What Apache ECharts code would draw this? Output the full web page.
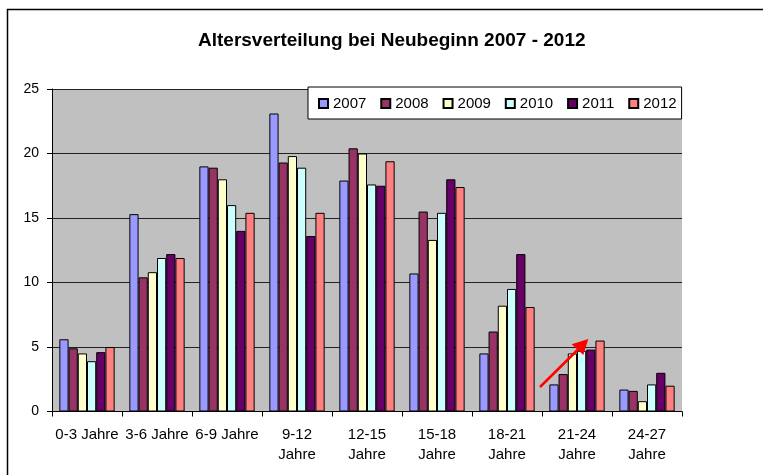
<!DOCTYPE html>
<html>
<head>
<meta charset="utf-8">
<script src="https://cdn.jsdelivr.net/npm/echarts@6/dist/echarts.min.js"></script>
<style>
html,body{margin:0;padding:0;background:#fff;}
#chart{width:763px;height:475px;}
</style>
</head>
<body>
<div id="chart"></div>
<script>
const categories = ['0-3 Jahre','3-6 Jahre','6-9 Jahre','9-12\nJahre','12-15\nJahre','15-18\nJahre','18-21\nJahre','21-24\nJahre','24-27\nJahre'];
const years = ['2007','2008','2009','2010','2011','2012'];
const v2007 = [5.6, 15.3, 19.0, 23.1, 17.9, 10.7, 4.5, 2.1, 1.7];
const v2008 = [4.9, 10.4, 18.9, 19.3, 20.4, 15.5, 6.2, 2.9, 1.6];
const v2009 = [4.5, 10.8, 18.0, 19.8, 20.0, 13.3, 8.2, 4.5, 0.8];
const v2010 = [3.9, 11.9, 16.0, 18.9, 17.6, 15.4, 9.5, 4.7, 2.1];
const v2011 = [4.6, 12.2, 14.0, 13.6, 17.5, 18.0, 12.2, 4.8, 3.0];
const v2012 = [5.0, 11.9, 15.4, 15.4, 19.4, 17.4, 8.1, 5.5, 2.0];
const yTicks = [0, 5, 10, 15, 20, 25];

const colors = ['#9999FF','#993366','#FFFFCC','#CCFFFF','#660066','#FF8080'];
const seriesValues = [v2007, v2008, v2009, v2010, v2011, v2012];
const FONT = "'Liberation Sans', Arial, sans-serif";

const chart = echarts.init(document.getElementById('chart'), null, {renderer:'canvas'});
chart.setOption({
  animation: false,
  backgroundColor: '#ffffff',
  title: {
    text: 'Altersverteilung bei Neubeginn 2007 - 2012',
    left: 198, top: 31, padding: 0,
    textStyle: {fontFamily: FONT, fontSize: 19, fontWeight: 'bold', color: '#000'}
  },
  legend: {
    data: years,
    left: 308, top: 87,
    padding: [9, 5, 8, 10],
    itemWidth: 9, itemHeight: 9, itemGap: 13.9,
    icon: 'rect',
    backgroundColor: '#ffffff',
    borderColor: '#000', borderWidth: 1,
    textStyle: {fontFamily: FONT, fontSize: 15, color: '#000'}
  },
  grid: {
    left: 52, right: 81, top: 89, bottom: 63.5,
    show: true, backgroundColor: '#C0C0C0', borderWidth: 0
  },
  xAxis: {
    type: 'category',
    data: categories,
    axisLine: {lineStyle: {color: '#000', width: 1}},
    axisTick: {show: true, length: 5, lineStyle: {color: '#000'}},
    axisLabel: {fontFamily: FONT, fontSize: 15, color: '#000', margin: 14, lineHeight: 19.5, interval: 0}
  },
  yAxis: {
    type: 'value',
    min: yTicks[0], max: yTicks[yTicks.length-1], interval: 5,
    axisLine: {show: true, lineStyle: {color: '#000', width: 1}},
    axisTick: {show: true, length: 5, lineStyle: {color: '#000'}},
    axisLabel: {fontFamily: FONT, fontSize: 14, color: '#000', margin: 13},
    splitLine: {show: true, lineStyle: {color: '#222', width: 1}}
  },
  series: years.map((y, i) => ({
    name: y,
    type: 'bar',
    data: seriesValues[i],
    barGap: '0%',
    barCategoryGap: '21%',
    itemStyle: {color: colors[i], borderColor: '#000', borderWidth: 1}
  })),
  graphic: [
    {type: 'rect', shape: {x: 7.5, y: 9.5, width: 800, height: 500}, style: {fill: 'none', stroke: '#000', lineWidth: 1.5}, z: 100},
    {type: 'line', shape: {x1: 540, y1: 387, x2: 578, y2: 349.5}, style: {stroke: '#FF0000', lineWidth: 2.5}, z: 100},
    {type: 'polygon', shape: {points: [[588.3, 339], [571.7, 344.3], [583.3, 355]]}, style: {fill: '#FF0000'}, z: 100}
  ]
});
</script>
</body>
</html>
